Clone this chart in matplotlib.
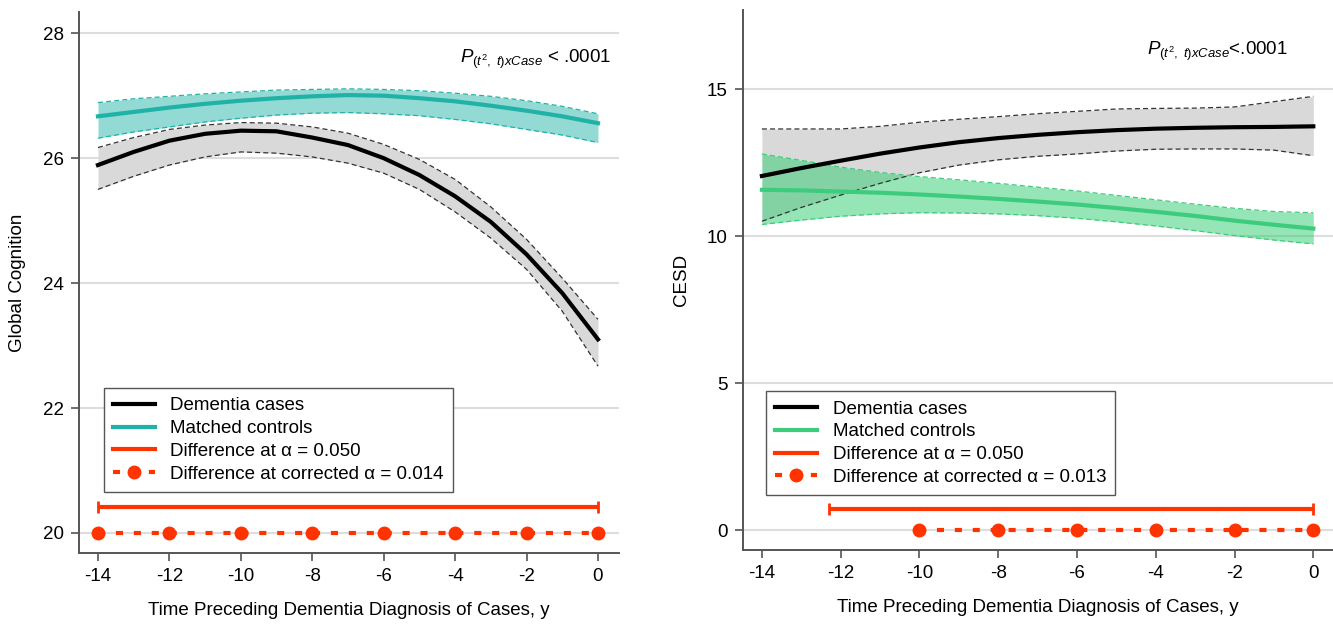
import matplotlib.pyplot as plt
from matplotlib.lines import Line2D

plt.rcParams['font.family'] = ['Liberation Sans', 'DejaVu Sans']
plt.rcParams['mathtext.fontset'] = 'custom'
plt.rcParams['mathtext.rm'] = 'Liberation Sans'
plt.rcParams['mathtext.it'] = 'Liberation Sans:italic'

years = list(range(-14, 1))

# global cognition, dementia cases (estimate + 95% band)
cog_cases = [25.89, 26.10, 26.28, 26.39, 26.44, 26.43, 26.33, 26.21, 26.00, 25.73, 25.39, 24.98, 24.46, 23.84, 23.10]
cog_cases_hi = [26.17, 26.33, 26.46, 26.53, 26.57, 26.56, 26.50, 26.40, 26.22, 25.98, 25.66, 25.22, 24.70, 24.08, 23.42]
cog_cases_lo = [25.50, 25.71, 25.89, 26.02, 26.10, 26.08, 26.02, 25.92, 25.76, 25.50, 25.14, 24.72, 24.22, 23.55, 22.67]
# global cognition, matched controls
cog_ctrl = [26.67, 26.74, 26.81, 26.87, 26.92, 26.96, 26.99, 27.01, 27.00, 26.96, 26.91, 26.84, 26.76, 26.67, 26.56]
cog_ctrl_hi = [26.89, 26.95, 26.99, 27.03, 27.06, 27.09, 27.10, 27.11, 27.10, 27.08, 27.04, 26.99, 26.92, 26.83, 26.71]
cog_ctrl_lo = [26.32, 26.42, 26.50, 26.58, 26.64, 26.69, 26.72, 26.73, 26.71, 26.68, 26.62, 26.55, 26.46, 26.37, 26.25]

# CESD, dementia cases
cesd_cases = [12.05, 12.32, 12.57, 12.81, 13.02, 13.20, 13.34, 13.45, 13.54, 13.61, 13.66, 13.69, 13.71, 13.72, 13.74]
cesd_cases_hi = [13.65, 13.65, 13.65, 13.74, 13.88, 13.98, 14.07, 14.17, 14.25, 14.33, 14.35, 14.36, 14.40, 14.58, 14.76]
cesd_cases_lo = [10.51, 10.98, 11.40, 11.80, 12.16, 12.42, 12.60, 12.72, 12.80, 12.90, 12.96, 12.97, 12.97, 12.93, 12.74]
# CESD, matched controls
cesd_ctrl = [11.58, 11.56, 11.52, 11.48, 11.42, 11.35, 11.27, 11.18, 11.08, 10.96, 10.83, 10.69, 10.53, 10.39, 10.26]
cesd_ctrl_hi = [12.80, 12.58, 12.35, 12.17, 12.03, 11.92, 11.80, 11.67, 11.54, 11.39, 11.24, 11.09, 10.95, 10.84, 10.80]
cesd_ctrl_lo = [10.40, 10.55, 10.68, 10.76, 10.80, 10.79, 10.76, 10.70, 10.61, 10.49, 10.35, 10.19, 10.02, 9.87, 9.74]

# significant differences (span at 0.05, points at corrected alpha)
cog_sig_span = [-14, 0]
cog_sig_span_y = 20.41
cog_sig_pts = [-14, -12, -10, -8, -6, -4, -2, 0]
cog_sig_pts_y = 20
cesd_sig_span = [-12.3, 0]
cesd_sig_span_y = 0.7
cesd_sig_pts = [-10, -8, -6, -4, -2, 0]
cesd_sig_pts_y = 0

xticks = [-14, -12, -10, -8, -6, -4, -2, 0]
red = '#ff3300'
gray_fill = '#d9d9d9'
fs = 13.5


def panel(ax, cases, c_lo, c_hi, ctrl, k_lo, k_hi, ctrl_color, ctrl_fill, ctrl_alpha,
          span, span_y, pts, pts_y, alpha_txt, ylab, yticks, ylim, xlim, ptext, ppos):
    ax.fill_between(years, c_lo, c_hi, color=gray_fill, lw=0, zorder=1)
    ax.fill_between(years, k_lo, k_hi, color=ctrl_fill, alpha=ctrl_alpha, lw=0, zorder=2)
    for b in (c_lo, c_hi):
        ax.plot(years, b, color='#333333', lw=0.9, ls=(0, (4, 2.5)), zorder=3)
    for b in (k_lo, k_hi):
        ax.plot(years, b, color=ctrl_color, lw=0.9, ls=(0, (4, 2.5)), zorder=3)
    ax.plot(years, ctrl, color=ctrl_color, lw=3, solid_joinstyle='round', zorder=4)
    ax.plot(years, cases, color='black', lw=3, solid_joinstyle='round', zorder=5)

    ax.plot(span, [span_y, span_y], color=red, lw=3, solid_capstyle='butt', zorder=5)
    ax.plot(span, [span_y, span_y], ls='none', marker='|', ms=9, mew=2, color=red, zorder=5)
    ax.plot(pts, [pts_y] * len(pts), color=red, lw=3, ls=(0, (1.7, 2.6)),
            marker='o', ms=9, zorder=6)

    ax.set_xlim(xlim)
    ax.set_ylim(ylim)
    ax.set_xticks(xticks)
    ax.set_xticklabels([str(t) for t in xticks])
    ax.set_yticks(yticks)
    ax.grid(axis='y', color='#dddddd', lw=1.5, zorder=0)
    ax.set_axisbelow(True)
    for s in ('top', 'right'):
        ax.spines[s].set_visible(False)
    for s in ('left', 'bottom'):
        ax.spines[s].set_color('#555555')
        ax.spines[s].set_linewidth(1.4)
    ax.tick_params(length=6, width=1.2, color='#555555', labelsize=fs, pad=5)

    ax.set_ylabel(ylab, fontsize=fs)
    ax.set_xlabel('Time Preceding Dementia Diagnosis of Cases, y', fontsize=fs)
    ax.xaxis.set_label_coords(0.5, -0.09)

    ax.text(ppos[0], ppos[1], ptext, transform=ax.transAxes, ha='right', va='baseline', fontsize=fs)

    handles = [
        Line2D([], [], color='black', lw=3),
        Line2D([], [], color=ctrl_color, lw=3),
        Line2D([], [], color=red, lw=3),
        Line2D([], [], color=red, lw=3, ls=(0, (1.7, 2.6)), marker='o', ms=9),
    ]
    labels = ['Dementia cases', 'Matched controls', 'Difference at α = 0.050',
              'Difference at corrected α = ' + alpha_txt]
    return handles, labels


fig = plt.figure(figsize=(13.33, 6.24), dpi=100)
ax1 = fig.add_axes([0.0593, 0.1138, 0.4051, 0.867])
ax2 = fig.add_axes([0.5574, 0.1186, 0.4426, 0.8654])

ptxt1 = r'$P_{(t^{2},\ t)xCase}$ < .0001'
ptxt2 = r'$P_{(t^{2},\ t)xCase}$<.0001'

h, l = panel(ax1, cog_cases, cog_cases_lo, cog_cases_hi, cog_ctrl, cog_ctrl_lo, cog_ctrl_hi,
             '#20b2a6', '#20b2a6', 0.48, cog_sig_span, cog_sig_span_y, cog_sig_pts, cog_sig_pts_y,
             '0.014', 'Global Cognition', [20, 22, 24, 26, 28], (19.68, 28.34), (-14.53, 0.59),
             ptxt1, (0.985, 0.906))
ax1.yaxis.set_label_coords(-0.098, 0.5)
ax1.legend(h, l, loc='upper left', bbox_to_anchor=(0.046, 0.305), borderaxespad=0,
           fontsize=fs, handlelength=2.2, handletextpad=0.85, labelspacing=0.3,
           borderpad=0.5, fancybox=False, framealpha=1, edgecolor='#555555', numpoints=1)

h, l = panel(ax2, cesd_cases, cesd_cases_lo, cesd_cases_hi, cesd_ctrl, cesd_ctrl_lo, cesd_ctrl_hi,
             '#3dcc7e', '#2ecc71', 0.5, cesd_sig_span, cesd_sig_span_y, cesd_sig_pts, cesd_sig_pts_y,
             '0.013', 'CESD', [0, 5, 10, 15], (-0.68, 17.7), (-14.48, 0.5),
             ptxt2, (0.924, 0.917))
ax2.yaxis.set_label_coords(-0.09, 0.5)
ax2.legend(h, l, loc='upper left', bbox_to_anchor=(0.039, 0.294), borderaxespad=0,
           fontsize=fs, handlelength=2.2, handletextpad=0.85, labelspacing=0.3,
           borderpad=0.5, fancybox=False, framealpha=1, edgecolor='#555555', numpoints=1)

fig.savefig('out.png', dpi=100)
